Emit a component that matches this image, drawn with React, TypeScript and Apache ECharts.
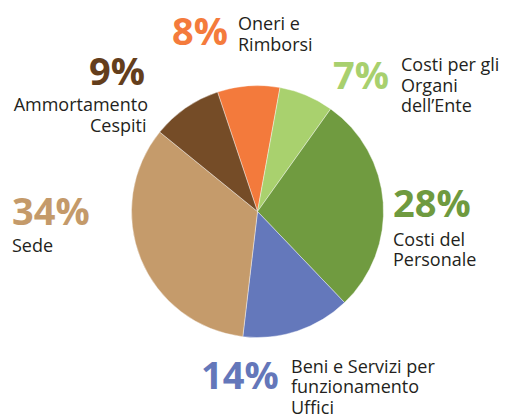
import React, { useEffect, useRef } from "react";
import * as echarts from "echarts";

const categories = [
  "Oneri e\nRimborsi",
  "Costi per gli\nOrgani\ndell\u2019Ente",
  "Costi del\nPersonale",
  "Beni e Servizi per\nfunzionamento\nUffici",
  "Sede",
  "Ammortamento\nCespiti",
];
const values = [8, 7, 28, 14, 34, 9];
const sliceColors = ["#F37A3C", "#A9D16E", "#709B40", "#6478BB", "#C59B6B", "#754C27"];
const pctColors = ["#F47B3C", "#A8D06E", "#6F9A3F", "#6477BA", "#C49A6A", "#643E1C"];

// layout of labels: [pctX, pctBaseline, pctAlign, nameX (per line), nameFirstBaseline, nameAlign]
const labelLayout: [number, number, string, number[], number, string][] = [
  [172, 45, "left", [238, 238], 30, "left"],
  [333, 89, "left", [401, 401, 401], 71, "left"],
  [393, 217, "left", [393, 393], 245.5, "left"],
  [201, 389, "left", [291, 291, 291], 372.7, "left"],
  [12, 225, "left", [12], 251.5, "left"],
  [145, 85, "right", [148, 146.5], 111, "right"],
];

const FONT = "'Open Sans', 'Noto Sans', sans-serif";
const PCT_SIZE = 38;
const NAME_SIZE = 18;
const LINE = 20.6;

function mid(baseline: number, size: number) {
  return baseline - 0.388 * size;
}

export default function App() {
  const ref = useRef<HTMLDivElement>(null);
  useEffect(() => {
    document.body.style.margin = "0";
    const chart = echarts.init(ref.current!, null, { renderer: "svg" });
    const graphics: any[] = [];
    categories.forEach((name, i) => {
      const [px, pb, pa, nxs, nb, na] = labelLayout[i];
      graphics.push({
        type: "text",
        x: px,
        y: mid(pb, PCT_SIZE),
        style: {
          text: `${values[i]}%`,
          fill: pctColors[i],
          font: `bold ${PCT_SIZE}px ${FONT}`,
          lineHeight: 28,
          align: pa,
          verticalAlign: "middle",
        },
      });
      name.split("\n").forEach((line, j) => {
        graphics.push({
          type: "text",
          x: nxs[j],
          y: mid(nb + j * LINE, NAME_SIZE),
          style: {
            text: line,
            fill: "#231F20",
            font: `${NAME_SIZE}px ${FONT}`,
            lineHeight: 14,
            align: na,
            verticalAlign: "middle",
          },
        });
      });
    });
    chart.setOption({
      animation: false,
      backgroundColor: "#ffffff",
      series: [
        {
          type: "pie",
          center: [257.5, 211.5],
          radius: 126,
          startAngle: 108.5,
          clockwise: true,
          label: { show: false },
          labelLine: { show: false },
          emphasis: { disabled: true },
          itemStyle: { borderColor: "#ffffff", borderWidth: 0.4 },
          data: categories.map((c, i) => ({
            name: c,
            value: values[i],
            itemStyle: { color: sliceColors[i] },
          })),
        },
      ],
      graphic: graphics,
    });
    return () => chart.dispose();
  }, []);
  return (
    <div
      ref={ref}
      style={{ position: "absolute", left: 0, top: 0, width: 506, height: 414 }}
    />
  );
}
